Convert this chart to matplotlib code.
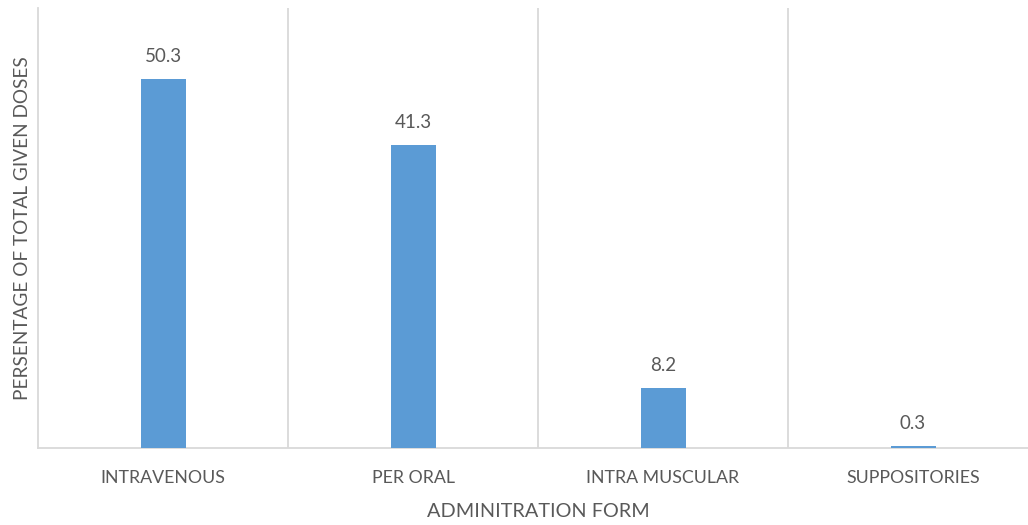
import numpy as np
import matplotlib.pyplot as plt

forms = ['INTRAVENOUS', 'PER ORAL', 'INTRA MUSCULAR', 'SUPPOSITORIES']
percent = [50.3, 41.3, 8.2, 0.3]

plt.rcParams['font.family'] = ['Lato', 'DejaVu Sans']
txt = '#595959'
grid = '#d9d9d9'

fig = plt.figure(figsize=(10.28, 5.25), dpi=100)
ax = fig.add_axes([38/1028, 77/525, 1000/1028, 440/525])

x = np.arange(len(forms))
bars = ax.bar(x, percent, width=0.18, color='#5b9bd5', zorder=3)
for xi, v in zip(x, percent):
    ax.annotate(f'{v}', (xi, v), xytext=(0, 10), textcoords='offset points',
                ha='center', va='bottom', fontsize=13.5, color=txt)

ax.set_xlim(-0.5, len(forms) - 0.5)
ax.set_ylim(0, 60)
ax.set_xticks(x)
ax.set_xticklabels(forms, fontsize=12.8, color=txt)
ax.set_xticks(np.arange(0.5, len(forms) - 0.5), minor=True)
ax.tick_params(axis='x', which='both', length=0, pad=16)
ax.set_yticks([])
ax.grid(axis='x', which='minor', color=grid, linewidth=1.3, zorder=0)

for s in ['top', 'right']:
    ax.spines[s].set_visible(False)
ax.spines['left'].set_color(grid)
ax.spines['left'].set_linewidth(1.3)
ax.spines['bottom'].set_color(grid)
ax.spines['bottom'].set_linewidth(1.3)

ax.set_xlabel('ADMINITRATION FORM', fontsize=14.3, color=txt, labelpad=12)
ax.set_ylabel('PERSENTAGE OF TOTAL GIVEN DOSES', fontsize=13.7, color=txt, labelpad=5)

fig.savefig('out.png', dpi=100)
